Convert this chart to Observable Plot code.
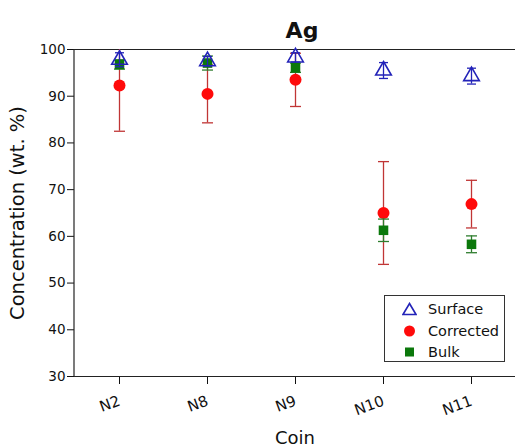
<!DOCTYPE html>
<html><head><meta charset="utf-8">
<script src="https://cdn.jsdelivr.net/npm/d3@7"></script>
<script src="https://cdn.jsdelivr.net/npm/@observablehq/plot@0.6"></script>
<style>
body{margin:0;background:#fff;font-family:"DejaVu Sans",sans-serif;}
#wrap{position:relative;width:515px;height:446px;}
#wrap svg g[aria-label="y-axis tick label"]{font-family:"DejaVu Sans",sans-serif;font-size:13.5px;}
#wrap svg g[aria-label="x-axis tick label"]{font-family:"DejaVu Sans",sans-serif;font-size:15px;}
#wrap svg g[aria-label="y-axis label"]{font-family:"DejaVu Sans",sans-serif;font-size:19.5px;}
#wrap svg g[aria-label="x-axis label"]{font-family:"DejaVu Sans",sans-serif;font-size:18px;}
#legend{position:absolute;left:384px;top:295px;width:121px;height:67px;border:1px solid #333;background:#fff;box-sizing:border-box;font-size:14.5px;color:#111;font-family:"DejaVu Sans",sans-serif;}
#legend .row{position:absolute;left:0;height:20px;display:flex;align-items:center;}
#legend svg{margin-left:17px;margin-right:11px;}
</style></head><body>
<div id="wrap"></div>
<script>
const coins = ["N2","N8","N9","N10","N11"];
const surface = [97.8, 97.5, 98.3, 95.5, 94.3];
const surfaceErr = [1.5, 1.0, 1.0, 1.7, 1.7];
const corrected = [92.3, 90.5, 93.5, 65.0, 66.9];
const correctedErr = [9.8, 6.2, 5.7, 11.0, 5.1];
const bulk = [96.8, 97.1, 96.1, 61.3, 58.3];
const bulkErr = [1.0, 1.5, 1.0, 2.4, 1.8];
const yTicks = [30,40,50,60,70,80,90,100];
const series = ["Surface","Corrected","Bulk"];
const colors = {Surface:"#2323b8", Corrected:"#ff0a0a", Bulk:"#0b780b"};
const barColors = {Surface:"#2323b8", Corrected:"#c03535", Bulk:"#2e7d2e"};

const mk = (vals, errs) => coins.map((c,i)=>({coin:c, v:vals[i], lo:vals[i]-errs[i], hi:vals[i]+errs[i]}));
const dS = mk(surface, surfaceErr), dC = mk(corrected, correctedErr), dB = mk(bulk, bulkErr);

const capSymbol = {draw(ctx, size){ const w = Math.sqrt(size/Math.PI); ctx.moveTo(-w,0); ctx.lineTo(w,0); }};

function errMarks(d, color, half){
  return [
    Plot.ruleX(d, {x:"coin", y1:"lo", y2:d=>Math.min(d.hi,100), stroke:color, strokeWidth:1.3}),
    Plot.dot(d.filter(r=>r.hi<=100), {x:"coin", y:"hi", symbol:capSymbol, r:half, stroke:color, strokeWidth:1.3, fill:"none"}),
    Plot.dot(d, {x:"coin", y:"lo", symbol:capSymbol, r:half, stroke:color, strokeWidth:1.3, fill:"none"})
  ];
}

const chart = Plot.plot({
  width:515, height:446,
  marginLeft:74, marginRight:0, marginTop:49, marginBottom:70,
  style:{fontFamily:"DejaVu Sans, sans-serif", fontSize:"14px", color:"#111", background:"#fff"},
  x:{type:"point", domain:coins, padding:0.5},
  y:{domain:[30,100]},
  marks:[
    Plot.axisY({ticks:yTicks, tickSize:7, tickPadding:2, label:"Concentration (wt. %)", labelAnchor:"center", labelArrow:"none", labelOffset:64}),
    Plot.axisX({tickSize:8, tickRotate:-20, tickPadding:16, label:"Coin", labelAnchor:"center", labelArrow:"none", labelOffset:67}),
    Plot.ruleY([30,100], {stroke:"#222", strokeWidth:1.2}),
    ...errMarks(dC, barColors.Corrected, 5.5),
    Plot.dot(dC, {x:"coin", y:"v", r:6, fill:colors.Corrected, stroke:"none"}),
    ...errMarks(dB, barColors.Bulk, 5.5),
    Plot.dot(dB, {x:"coin", y:"v", symbol:"square", r:5.4, fill:colors.Bulk, stroke:"none"}),
    ...errMarks(dS, barColors.Surface, 4.5),
    Plot.dot(dS, {x:"coin", y:"v", symbol:"triangle", r:5.8, fill:"none", stroke:colors.Surface, strokeWidth:1.6}),
    Plot.text(["Ag"], {frameAnchor:"top", lineAnchor:"bottom", dx:7, dy:-12, fontSize:22, fontWeight:"bold", fill:"#111", fontFamily:"DejaVu Sans, sans-serif"})
  ]
});
const wrap = document.getElementById("wrap");
wrap.appendChild(chart);

const svg = d3.select(chart);
svg.append("line").attr("x1",74).attr("x2",74).attr("y1",49).attr("y2",376).attr("stroke","#222").attr("stroke-width",1.2);

const leg = document.createElement("div");
leg.id = "legend";
const syms = {
  Surface:'<svg width="15" height="14"><polygon points="7.5,1.5 14,12.5 1,12.5" fill="none" stroke="'+colors.Surface+'" stroke-width="1.6"/></svg>',
  Corrected:'<svg width="15" height="14"><circle cx="7.5" cy="7" r="5.5" fill="'+colors.Corrected+'"/></svg>',
  Bulk:'<svg width="15" height="14"><rect x="3" y="2.5" width="9" height="9" fill="'+colors.Bulk+'"/></svg>'
};
series.forEach((s,i)=>{
  const r = document.createElement("div");
  r.className="row"; r.style.top=(3+i*21.5)+"px";
  r.innerHTML = syms[s] + '<span>'+s+'</span>';
  leg.appendChild(r);
});
wrap.appendChild(leg);
</script>
</body></html>
